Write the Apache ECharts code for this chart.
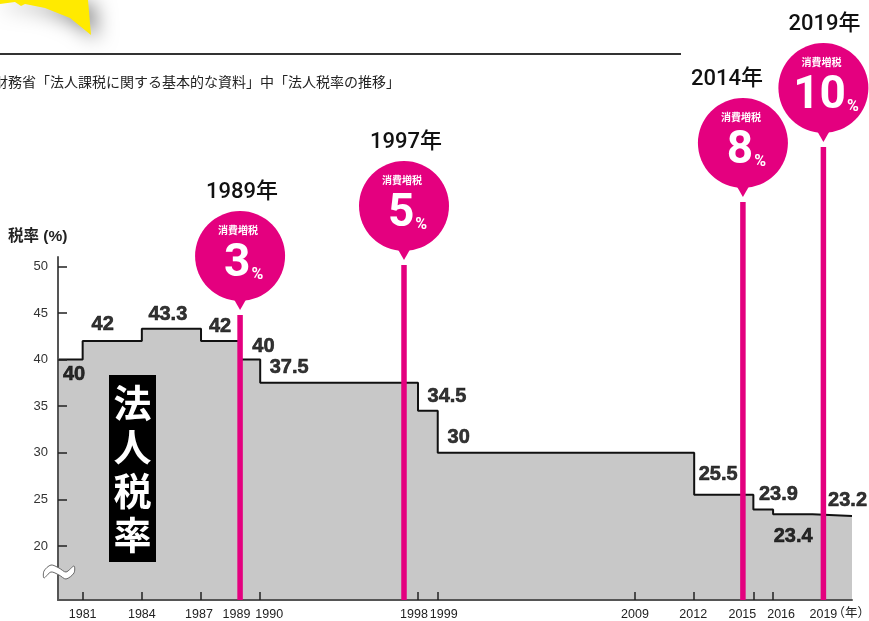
<!DOCTYPE html>
<html>
<head>
<meta charset="utf-8">
<script src="https://cdn.jsdelivr.net/npm/echarts@6/dist/echarts.min.js"></script>
<style>
  html, body { margin: 0; padding: 0; background: #fff; }
  #chart { width: 869px; height: 621px; }
</style>
</head>
<body>
<div id="chart"></div>
<script>
// axis range (years / percent)
const X_MIN = 1979.75
const X_MAX = 2020
const Y_MIN = 14.2
const Y_MAX = 51

// corporate tax rate: each value holds from its year until the next one
const stepYears = [X_MIN, 1981, 1984, 1987, 1989, 1990, 1998, 1999, 2012, 2015, 2016, 2018]
const taxRates = [40, 42, 43.3, 42, 40, 37.5, 34.5, 30, 25.5, 23.9, 23.4, 23.2]

// x axis ticks (the 2019 tick sits a little left in the source)
const xTickPos = [1981, 1984, 1987, 1989, 1990, 1998, 1999, 2009, 2012, 2015, 2016, 2018.55]
const xTickLabels = ['1981', '1984', '1987', '1989', '1990', '1998', '1999', '2009', '2012', '2015', '2016', '2019']
const yTicks = [20, 25, 30, 35, 40, 45, 50]

// consumption tax hikes
const eventYears = ['1989年', '1997年', '2014年', '2019年']
const eventPos = [1988.98, 1997.29, 2014.47, 2018.55]
const consumptionRates = ['3', '5', '8', '10']

const MAGENTA = '#e4007f'

// layout-only tweaks
const labelOffsets = [[16, 15], [20, -16], [26, -14], [19, -14], [23, -13], [29, -15],
  [29, -14], [21, -15], [24, -20], [25, -15], [20, 22], [35, -16]]
const tickShift = [0, 0, -2, -4, 9, -4, 6, 0, -1, -11, 8, 0]
const balloonY = [256, 206, 143, 88]
const yearDx = [2, 2, -16, 1]

const chart = echarts.init(document.getElementById('chart'))

const stepData = stepYears.map((y, i) => [y, taxRates[i]])
stepData.push([X_MAX, taxRates[taxRates.length - 1]])

const tickRich = {}
tickShift.forEach((s, i) => {
  tickRich['t' + i] = {
    fontSize: 12.5,
    color: '#222',
    fontFamily: 'Liberation Sans',
    padding: [0, s < 0 ? -2 * s : 0, 0, s > 0 ? 2 * s : 0]
  }
})

chart.setOption({
  animation: false,
  grid: { left: 58, right: 17, top: 257, bottom: 21 },
  xAxis: {
    type: 'value',
    min: X_MIN,
    max: X_MAX,
    z: 5,
    splitLine: { show: false },
    axisLine: { show: true, onZero: false, lineStyle: { color: '#555', width: 2 } },
    axisTick: {
      show: true,
      inside: true,
      length: 8,
      customValues: xTickPos,
      lineStyle: { color: '#222', width: 1.5 }
    },
    axisLabel: {
      customValues: xTickPos,
      margin: 8,
      formatter: function(v) {
        const i = xTickPos.findIndex(p => Math.abs(p - v) < 1e-6)
        return i < 0 ? '' : '{t' + i + '|' + xTickLabels[i] + '}'
      },
      rich: tickRich
    }
  },
  yAxis: {
    type: 'value',
    min: Y_MIN,
    max: Y_MAX,
    z: 5,
    splitLine: { show: false },
    axisLine: { show: true, lineStyle: { color: '#555', width: 2 } },
    axisTick: {
      show: true,
      inside: true,
      length: 9,
      customValues: yTicks,
      lineStyle: { color: '#222', width: 1.5 }
    },
    axisLabel: {
      customValues: yTicks,
      margin: 10,
      fontSize: 13,
      color: '#333',
      fontFamily: 'Liberation Sans'
    }
  },
  series: [
    {
      type: 'line',
      step: 'end',
      data: stepData,
      symbol: 'none',
      lineStyle: { color: '#111', width: 2 },
      areaStyle: { color: '#c8c8c8', opacity: 1 },
      z: 2
    },
    {
      type: 'scatter',
      data: stepYears.map((y, i) => ({
        value: [y, taxRates[i]],
        label: { offset: labelOffsets[i] }
      })),
      symbolSize: 1,
      itemStyle: { color: 'transparent' },
      label: {
        show: true,
        position: 'inside',
        formatter: p => String(p.value[1]),
        fontFamily: 'Liberation Sans',
        fontWeight: 'bold',
        fontSize: 20,
        color: '#000',
        textBorderColor: '#000',
        textBorderWidth: 0.6
      },
      silent: true,
      z: 3
    }
  ]
})

// decorations and consumption tax balloons
const toPx = (x, y) => chart.convertToPixel({ gridIndex: 0 }, [x, y])
const yBottom = toPx(X_MIN, Y_MIN)[1]

const elements = [
  {
    type: 'polygon',
    shape: { points: [[0, 0], [88, 0], [91, 35], [70, 18], [45, 8], [25, 4], [21, 6], [15, 2], [0, 4]] },
    style: { fill: '#ffea00', shadowBlur: 20, shadowColor: 'rgba(0,0,0,0.5)', shadowOffsetX: 6, shadowOffsetY: 4 },
    z: 100
  },
  {
    type: 'line',
    shape: { x1: 0, y1: 54, x2: 681, y2: 54 },
    style: { stroke: '#333', lineWidth: 2 },
    z: 100
  },
  {
    type: 'text',
    x: -6,
    y: 82,
    style: {
      text: '財務省「法人課税に関する基本的な資料」中「法人税率の推移」',
      font: '14px "Noto Sans CJK JP"',
      fill: '#222',
      verticalAlign: 'middle'
    },
    z: 100
  },
  {
    type: 'text',
    x: 8,
    y: 237,
    style: {
      text: '税率 (%)',
      font: 'bold 15.5px "Liberation Sans", "Noto Sans CJK JP"',
      fill: '#222',
      verticalAlign: 'middle'
    },
    z: 100
  },
  {
    type: 'text',
    x: 870,
    y: 612,
    style: {
      text: '（年）',
      font: '12.5px "Noto Sans CJK JP"',
      fill: '#222',
      align: 'right',
      verticalAlign: 'middle'
    },
    z: 100
  },
  {
    // axis break mark (wavy white band)
    type: 'polygon',
    shape: {
      points: [[44, 571], [51, 565], [59, 568], [66, 572], [74, 566],
        [74, 573], [66, 579], [59, 575], [51, 572], [44, 578]],
      smooth: 0.3
    },
    style: { fill: '#fff', stroke: '#666', lineWidth: 1 },
    z: 100
  },
  {
    type: 'rect',
    shape: { x: 109, y: 375, width: 47, height: 187 },
    style: { fill: '#000' },
    z: 100
  },
  {
    type: 'text',
    x: 132.5,
    y: 469,
    style: {
      text: '法\n人\n税\n率',
      font: 'bold 38px "Noto Sans CJK JP"',
      lineHeight: 44,
      fill: '#fff',
      align: 'center',
      verticalAlign: 'middle'
    },
    z: 101
  }
]

eventPos.forEach((pos, i) => {
  const cx = toPx(pos, Y_MIN)[0]
  const cy = balloonY[i]
  const num = consumptionRates[i]
  const anchor = 5 + (24.6 * num.length - 14) / 2
  elements.push(
    {
      type: 'line',
      shape: { x1: cx, y1: cy + 59, x2: cx, y2: yBottom },
      style: { stroke: MAGENTA, lineWidth: 5.5 },
      z: 100
    },
    {
      type: 'circle',
      shape: { cx: cx, cy: cy, r: 45 },
      style: { fill: MAGENTA },
      z: 100
    },
    {
      type: 'polygon',
      shape: { points: [[cx - 8, cy + 40], [cx + 8, cy + 40], [cx, cy + 54]] },
      style: { fill: MAGENTA },
      z: 100
    },
    {
      type: 'text',
      x: cx + yearDx[i],
      y: cy - 64,
      style: {
        text: eventYears[i],
        font: '500 22px Roboto, "Noto Sans CJK JP"',
        fill: '#111',
        align: 'center',
        verticalAlign: 'middle'
      },
      z: 101
    },
    {
      type: 'text',
      x: cx - 2,
      y: cy - 26,
      style: {
        text: '消費増税',
        font: 'bold 10px "Noto Sans CJK JP"',
        fill: '#fff',
        align: 'center',
        verticalAlign: 'middle'
      },
      z: 101
    },
    {
      type: 'text',
      x: cx + anchor,
      y: cy + 8,
      style: {
        text: num,
        font: 'bold 46px Roboto',
        fill: '#fff',
        align: 'right',
        verticalAlign: 'middle'
      },
      z: 101
    },
    {
      type: 'text',
      x: cx + anchor + 1,
      y: cy + 19,
      style: {
        text: '%',
        font: 'bold 16px Roboto',
        fill: '#fff',
        align: 'left',
        verticalAlign: 'middle'
      },
      z: 101
    }
  )
})

chart.setOption({ graphic: { elements: elements } })
</script>
</body>
</html>
